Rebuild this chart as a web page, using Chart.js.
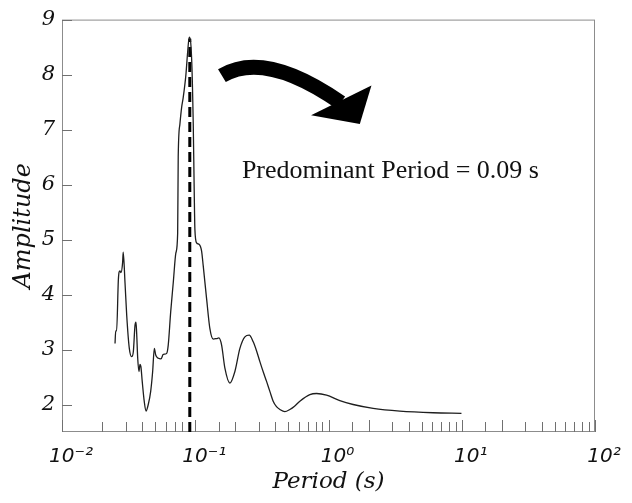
<!DOCTYPE html>
<html>
<head>
<meta charset="utf-8">
<script src="https://cdn.jsdelivr.net/npm/chart.js@4.4.1/dist/chart.umd.min.js"></script>
<style>
  html, body { margin: 0; padding: 0; background: #fff; }
  #wrap { width: 632px; height: 503px; }
</style>
</head>
<body>
<div id="wrap"><canvas id="chart" width="632" height="503"></canvas></div>
<script>
// values
const periods = [
  0.0250, 0.0253, 0.0257, 0.0265, 0.0272, 0.0277, 0.0285, 0.0288, 0.0297, 0.0306,
  0.0320, 0.0333, 0.0343, 0.0353, 0.0359, 0.0363, 0.0370, 0.0378, 0.0385, 0.0391,
  0.0400, 0.0414, 0.0427, 0.0444, 0.0463, 0.0479, 0.0493, 0.0505, 0.0528, 0.0553,
  0.0575, 0.0610, 0.0627, 0.0654, 0.0684, 0.0716, 0.0738, 0.0745, 0.0767, 0.0790,
  0.0812, 0.0851, 0.0877, 0.0901, 0.0939, 0.0966, 0.0982, 0.0994, 0.1024, 0.1071,
  0.1116, 0.1148, 0.1217, 0.1288, 0.1364, 0.1446, 0.1505, 0.1577, 0.1669, 0.1820,
  0.1984, 0.2163, 0.2358, 0.2540, 0.2722, 0.2890, 0.3055, 0.3240, 0.3429, 0.3640,
  0.3844, 0.4070, 0.4315, 0.4705, 0.5129, 0.5560, 0.6095, 0.7244, 0.8135, 0.9667,
  1.216, 1.530, 2.162, 3.428, 6.095, 9.95
];
const amplitudes = [
  3.11, 3.34, 3.34, 4.28, 4.43, 4.40, 4.58, 4.77, 4.22, 3.62,
  3.02, 2.87, 2.96, 3.44, 3.50, 3.32, 2.84, 2.60, 2.73, 2.69,
  2.42, 2.06, 1.88, 2.00, 2.24, 2.60, 3.02, 2.90, 2.84, 2.83,
  2.91, 2.93, 3.08, 3.68, 4.22, 4.76, 5.12, 6.50, 7.10, 7.40,
  7.58, 8.00, 8.41, 8.68, 8.30, 7.10, 5.90, 5.18, 4.94, 4.91,
  4.79, 4.52, 3.92, 3.38, 3.19, 3.20, 3.21, 3.08, 2.66, 2.39,
  2.60, 3.02, 3.23, 3.26, 3.14, 2.97, 2.78, 2.59, 2.42, 2.23,
  2.06, 1.96, 1.91, 1.87, 1.91, 1.97, 2.06, 2.18, 2.20, 2.17,
  2.07, 2.00, 1.93, 1.88, 1.85, 1.84
];
const predominantPeriod = 0.091;
const predominantTop = 8.65;
const annotationText = "Predominant Period = 0.09 s";

const yTickValues = [2, 3, 4, 5, 6, 7, 8, 9];
const xTickLabels = { "-2": "10\u207B\u00B2", "-1": "10\u207B\u00B9", "0": "10\u2070", "1": "10\u00B9", "2": "10\u00B2" };

const curve = periods.map((p, i) => ({ x: p, y: amplitudes[i] }));
const dashLine = [{ x: predominantPeriod, y: 1.5 }, { x: predominantPeriod, y: predominantTop }];

// box, inward tick marks, arrow and the text note
const framePlugin = {
  id: "frame",
  beforeDatasetsDraw(chart) {
    const { ctx, chartArea: a, scales: { x, y } } = chart;
    ctx.save();
    ctx.strokeStyle = "#8c8c8c";
    ctx.lineWidth = 1;
    ctx.strokeRect(a.left + 0.5, a.top + 0.5, a.right - a.left - 1, a.bottom - a.top - 1);
    ctx.strokeStyle = "#707070";
    ctx.beginPath();
    x.ticks.forEach((t) => {
      const px = Math.round(x.getPixelForValue(t.value)) + 0.5;
      const isMajor = Math.abs(Math.log10(t.value) - Math.round(Math.log10(t.value))) < 1e-6;
      const len = isMajor || String(t.value).startsWith("2") ? 12 : 10;
      ctx.moveTo(px, a.bottom);
      ctx.lineTo(px, a.bottom - len);
    });
    y.ticks.forEach((t) => {
      const py = Math.round(y.getPixelForValue(t.value)) + 0.5;
      ctx.moveTo(a.left, py);
      ctx.lineTo(a.left + 10, py);
    });
    ctx.stroke();
    ctx.restore();
  },
  afterDatasetsDraw(chart) {
    const { ctx, scales: { x, y } } = chart;
    const pt = (p, v) => [x.getPixelForValue(p), y.getPixelForValue(v)];
    ctx.save();

    // curved arrow body
    const p0 = pt(0.1585, 7.98);
    const p1 = pt(0.333, 8.45);
    const p2 = pt(1.237, 7.49);
    ctx.strokeStyle = "#000";
    ctx.lineWidth = 15;
    ctx.lineCap = "butt";
    ctx.beginPath();
    ctx.moveTo(p0[0], p0[1]);
    ctx.quadraticCurveTo(p1[0], p1[1], p2[0], p2[1]);
    ctx.stroke();

    // arrow head
    const h1 = pt(0.740, 7.26);
    const h2 = pt(2.10, 7.80);
    const tip = pt(1.718, 7.10);
    ctx.fillStyle = "#000";
    ctx.beginPath();
    ctx.moveTo(h1[0], h1[1]);
    ctx.lineTo(h2[0], h2[1]);
    ctx.lineTo(tip[0], tip[1]);
    ctx.closePath();
    ctx.fill();

    const tp = pt(0.2239, 6.12);
    ctx.fillStyle = "#111";
    ctx.font = "26px 'Liberation Serif', serif";
    ctx.textBaseline = "alphabetic";
    ctx.textAlign = "left";
    ctx.fillText(annotationText, tp[0], tp[1]);
    ctx.restore();
  }
};

new Chart(document.getElementById("chart"), {
  type: "line",
  data: {
    datasets: [
      {
        label: "Amplitude",
        data: curve,
        borderColor: "#1e1e1e",
        borderWidth: 1.3,
        pointRadius: 0,
        cubicInterpolationMode: "monotone",
        fill: false
      },
      {
        label: "Predominant period",
        data: dashLine,
        borderColor: "#000",
        borderWidth: 3,
        borderDash: [10, 5],
        pointRadius: 0,
        fill: false
      }
    ]
  },
  options: {
    responsive: false,
    animation: false,
    layout: { padding: { top: 13, right: 37, left: 0, bottom: 0 } },
    plugins: {
      legend: { display: false },
      tooltip: { enabled: false }
    },
    scales: {
      x: {
        type: "logarithmic",
        min: 0.01,
        max: 100,
        grid: { display: false, drawTicks: false },
        border: { display: false },
        afterFit: (scale) => { scale.height = 71; },
        ticks: {
          autoSkip: false,
          maxRotation: 0,
          padding: 13,
          labelOffset: 9,
          color: "#111",
          font: { family: "'DejaVu Sans', sans-serif", size: 20, style: "italic" },
          callback: (value) => {
            const e = Math.log10(value);
            if (Math.abs(e - Math.round(e)) > 1e-6) return "";
            return xTickLabels[String(Math.round(e))] || "";
          }
        },
        title: {
          display: true,
          text: "Period (s)",
          color: "#111",
          padding: { top: 0, bottom: 7 },
          font: { family: "'DejaVu Serif', serif", size: 23, style: "italic" }
        }
      },
      y: {
        min: 1.5,
        max: 9,
        grid: { display: false, drawTicks: false },
        border: { display: false },
        afterFit: (scale) => { scale.width = 62; },
        afterBuildTicks: (scale) => { scale.ticks = yTickValues.map((v) => ({ value: v })); },
        ticks: {
          padding: 7,
          color: "#111",
          font: { family: "'DejaVu Serif', serif", size: 21, style: "italic" }
        },
        title: {
          display: true,
          text: "Amplitude",
          color: "#111",
          padding: { top: 9, bottom: 0 },
          font: { family: "'DejaVu Serif', serif", size: 24, style: "italic" }
        }
      }
    }
  },
  plugins: [framePlugin]
});
</script>
</body>
</html>
